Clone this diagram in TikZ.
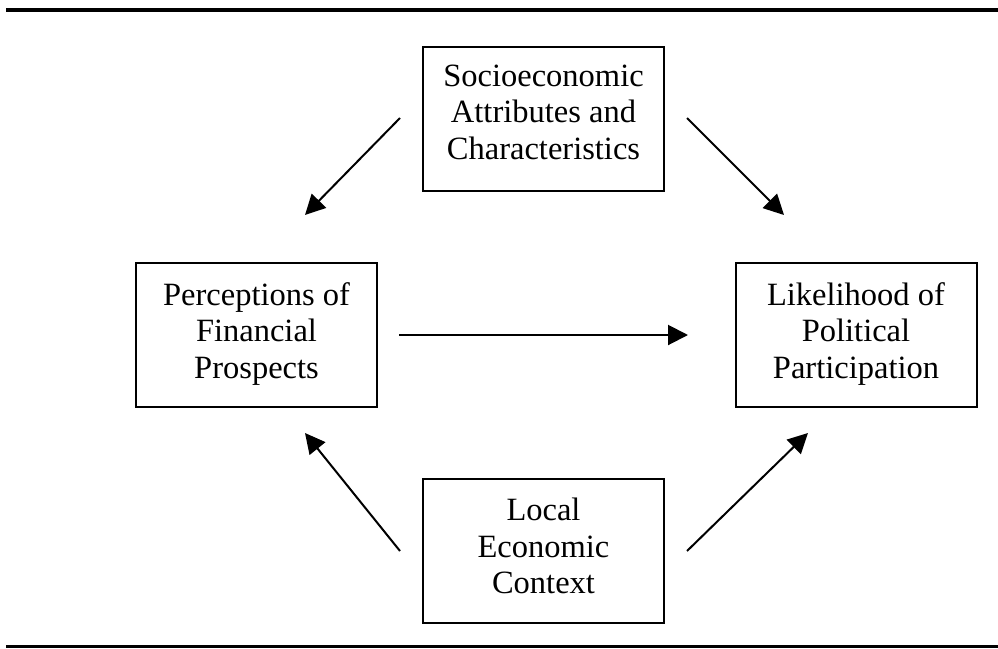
\documentclass[tikz,border=0pt]{standalone}
\usepackage{fontspec}
\setmainfont{Liberation Serif}
\usetikzlibrary{arrows.meta}
\begin{document}
\begin{tikzpicture}[x=1pt,y=-1pt,
  box/.style={draw, line width=2pt, minimum width=241pt, minimum height=144pt, inner sep=0pt},
  txt/.style={align=center, inner sep=0pt, font=\fontsize{32.5}{36.5}\selectfont},
  arr/.style={line width=2pt, -{Triangle[length=20pt,width=20pt]}},
  thickrule/.style={line width=4pt},
  thinrule/.style={line width=3pt}]
\useasboundingbox (0,0) rectangle (998,648);
% rules
\coordinate (t1) at (6,10);
\coordinate (t2) at (998,10);
\coordinate (b1) at (6,646.5);
\coordinate (b2) at (998,646.5);
\draw[thickrule] (t1) -- (t2);
\draw[thinrule] (b1) -- (b2);
% boxes
\node[box] (soc) at (543.5,119) {};
\node[box] (perc) at (256.5,335) {};
\node[box] (lik) at (856,335) {};
\node[box] (loc) at (543.5,551) {};
% texts
\node[txt] (soctxt) at (543.5,112) {Socioeconomic\\Attributes and\\Characteristics};
\node[txt] (perctxt) at (256.5,334) {Perceptions of\\Financial\\Prospects};
\node[txt] (liktxt) at (856,334) {Likelihood of\\Political\\Participation};
\node[txt] (loctxt) at (543.5,546) {Local\\Economic\\Context};
% arrow end points
\coordinate (a1s) at (400,118);
\coordinate (a1e) at (305,215);
\coordinate (a2s) at (687,118);
\coordinate (a2e) at (784,215);
\coordinate (a3s) at (399,335);
\coordinate (a3e) at (688,335);
\coordinate (a4s) at (400,551);
\coordinate (a4e) at (305,433);
\coordinate (a5s) at (687,551);
\coordinate (a5e) at (808,433);
\draw[arr] (a1s) -- (a1e);
\draw[arr] (a2s) -- (a2e);
\draw[arr] (a3s) -- (a3e);
\draw[arr] (a4s) -- (a4e);
\draw[arr] (a5s) -- (a5e);
\end{tikzpicture}
\end{document}
